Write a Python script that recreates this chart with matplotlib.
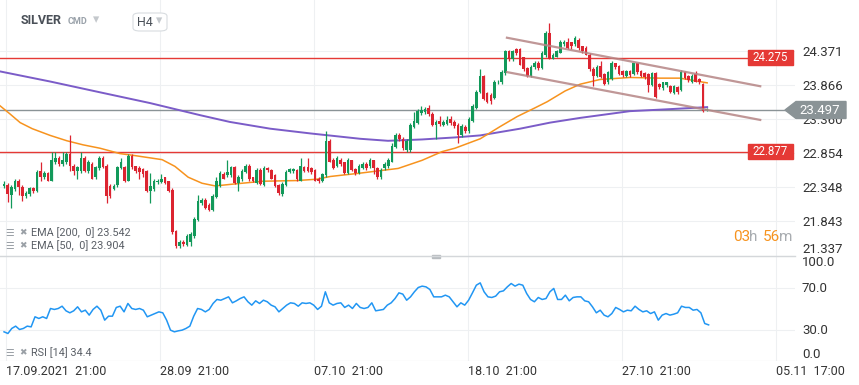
import numpy as np
import matplotlib.pyplot as plt
from matplotlib.patches import Rectangle, Polygon, FancyBboxPatch

plt.rcParams['font.family'] = ['Roboto', 'DejaVu Sans']

# H4 candles, SILVER
opens = [22.37, 22.38, 22.23, 22.32, 22.45, 22.35, 22.22, 22.25, 22.34, 22.29,
         22.59, 22.51, 22.56, 22.45, 22.73, 22.79, 22.69, 22.73, 22.84, 22.67,
         22.59, 22.59, 22.79, 22.59, 22.70, 22.50, 22.63, 22.79, 22.66, 22.37,
         22.32, 22.38, 22.63, 22.65, 22.45, 22.82, 22.66, 22.63, 22.62, 22.59,
         22.29, 22.32, 22.43, 22.43, 22.50, 22.44, 22.31, 21.70, 21.48, 21.54,
         21.50, 21.54, 21.63, 21.87, 22.12, 22.16, 22.09, 22.01, 22.20, 22.37,
         22.54, 22.53, 22.53, 22.65, 22.41, 22.47, 22.57, 22.67, 22.50, 22.41,
         22.60, 22.38, 22.63, 22.60, 22.53, 22.38, 22.25, 22.38, 22.57, 22.59,
         22.60, 22.45, 22.65, 22.65, 22.63, 22.60, 22.48, 22.44, 22.53, 23.03,
         22.75, 22.66, 22.76, 22.72, 22.56, 22.75, 22.62, 22.56, 22.63, 22.70,
         22.66, 22.75, 22.63, 22.51, 22.63, 22.66, 22.73, 22.95, 23.12, 23.07,
         22.90, 22.90, 23.25, 23.31, 23.45, 23.47, 23.53, 23.44, 23.28, 23.34,
         23.28, 23.29, 23.37, 23.32, 23.28, 23.12, 23.25, 23.18, 23.34, 23.53,
         23.76, 24.00, 23.75, 23.72, 23.67, 23.91, 23.91, 24.04, 24.37, 24.25,
         24.41, 24.41, 24.28, 24.12, 24.00, 24.13, 24.20, 24.12, 24.32, 24.64,
         24.26, 24.29, 24.35, 24.48, 24.51, 24.50, 24.48, 24.54, 24.44, 24.42,
         24.32, 24.10, 24.00, 24.15, 24.03, 23.91, 23.95, 24.19, 24.15, 24.07,
         24.00, 24.07, 24.03, 24.19, 24.07, 24.04, 24.03, 23.87, 24.04, 23.88,
         23.82, 23.87, 23.85, 23.75, 23.84, 23.79, 24.06, 24.00, 23.91, 24.03,
         23.95, 23.88, 23.50]
highs = [22.45, 22.41, 22.38, 22.48, 22.48, 22.38, 22.29, 22.35, 22.35, 22.60,
         22.73, 22.59, 22.57, 22.87, 22.87, 22.82, 22.87, 22.87, 23.13, 22.70,
         22.67, 22.87, 22.82, 22.75, 22.73, 22.67, 22.82, 22.82, 22.69, 22.40,
         22.40, 22.67, 22.78, 22.67, 22.85, 22.85, 22.67, 22.66, 22.63, 22.60,
         22.56, 22.47, 22.48, 22.54, 22.51, 22.45, 22.34, 21.72, 21.57, 21.57,
         21.65, 21.68, 21.91, 22.23, 22.19, 22.19, 22.12, 22.25, 22.51, 22.59,
         22.57, 22.75, 22.67, 22.66, 22.53, 22.62, 22.70, 22.69, 22.51, 22.63,
         22.63, 22.66, 22.65, 22.62, 22.54, 22.40, 22.43, 22.60, 22.63, 22.63,
         22.62, 22.78, 22.66, 22.78, 22.65, 22.62, 22.50, 22.56, 23.18, 23.06,
         22.78, 22.81, 22.78, 22.73, 22.78, 22.76, 22.63, 22.69, 22.73, 22.73,
         22.78, 22.76, 22.65, 22.63, 22.73, 22.79, 23.00, 23.15, 23.15, 23.09,
         23.07, 23.31, 23.47, 23.51, 23.56, 23.54, 23.57, 23.47, 23.35, 23.41,
         23.35, 23.41, 23.41, 23.35, 23.31, 23.29, 23.28, 23.40, 23.59, 23.79,
         24.10, 24.01, 23.76, 23.75, 23.94, 23.94, 24.09, 24.39, 24.39, 24.39,
         24.42, 24.42, 24.29, 24.13, 24.16, 24.23, 24.22, 24.38, 24.67, 24.79,
         24.35, 24.39, 24.54, 24.54, 24.57, 24.51, 24.59, 24.56, 24.45, 24.44,
         24.34, 24.13, 24.16, 24.22, 24.04, 24.07, 24.22, 24.20, 24.16, 24.09,
         24.09, 24.09, 24.20, 24.20, 24.09, 24.06, 24.04, 24.06, 24.06, 23.90,
         23.92, 23.92, 23.87, 23.87, 23.85, 24.09, 24.07, 24.01, 24.03, 24.07,
         23.97, 23.90, 23.53]
lows = [22.34, 22.13, 22.04, 22.29, 22.23, 22.15, 22.19, 22.22, 22.26, 22.28,
        22.45, 22.47, 22.44, 22.44, 22.69, 22.66, 22.66, 22.70, 22.59, 22.53,
        22.48, 22.56, 22.57, 22.56, 22.47, 22.48, 22.60, 22.63, 22.12, 22.19,
        22.31, 22.35, 22.62, 22.43, 22.44, 22.62, 22.56, 22.47, 22.51, 22.28,
        22.12, 22.29, 22.40, 22.41, 22.40, 22.28, 21.66, 21.45, 21.45, 21.48,
        21.48, 21.48, 21.60, 21.85, 22.09, 22.03, 22.00, 22.00, 22.19, 22.35,
        22.47, 22.51, 22.50, 22.40, 22.29, 22.45, 22.56, 22.45, 22.43, 22.40,
        22.38, 22.37, 22.57, 22.47, 22.35, 22.23, 22.22, 22.37, 22.56, 22.56,
        22.45, 22.44, 22.57, 22.57, 22.54, 22.44, 22.41, 22.43, 22.51, 22.72,
        22.62, 22.65, 22.67, 22.54, 22.54, 22.59, 22.53, 22.54, 22.62, 22.60,
        22.63, 22.54, 22.48, 22.48, 22.60, 22.63, 22.72, 22.93, 23.03, 22.91,
        22.88, 22.88, 23.23, 23.29, 23.42, 23.44, 23.41, 23.26, 23.07, 23.26,
        23.26, 23.28, 23.28, 23.23, 23.01, 23.09, 23.15, 23.16, 23.32, 23.51,
        23.75, 23.65, 23.60, 23.59, 23.66, 23.88, 23.88, 24.01, 24.23, 24.22,
        24.32, 24.16, 24.07, 23.98, 23.98, 24.10, 24.09, 24.10, 24.29, 24.25,
        24.25, 24.28, 24.34, 24.45, 24.41, 24.41, 24.45, 24.39, 24.35, 24.31,
        24.07, 23.85, 23.98, 23.97, 23.87, 23.88, 23.94, 24.10, 24.01, 23.98,
        23.98, 23.98, 24.01, 24.03, 23.98, 23.95, 23.76, 23.85, 23.67, 23.81,
        23.79, 23.84, 23.75, 23.73, 23.73, 23.78, 23.95, 23.91, 23.90, 23.91,
        23.88, 23.47, 23.48]
closes = [22.40, 22.25, 22.35, 22.45, 22.35, 22.22, 22.26, 22.34, 22.29, 22.57,
          22.51, 22.56, 22.45, 22.75, 22.79, 22.69, 22.76, 22.84, 22.66, 22.59,
          22.65, 22.79, 22.59, 22.72, 22.48, 22.65, 22.79, 22.65, 22.22, 22.22,
          22.37, 22.65, 22.72, 22.45, 22.82, 22.65, 22.59, 22.57, 22.54, 22.29,
          22.37, 22.44, 22.45, 22.48, 22.41, 22.29, 21.68, 21.48, 21.54, 21.51,
          21.62, 21.65, 21.88, 22.15, 22.16, 22.04, 22.01, 22.22, 22.44, 22.56,
          22.48, 22.57, 22.65, 22.41, 22.50, 22.59, 22.67, 22.47, 22.44, 22.60,
          22.40, 22.63, 22.60, 22.48, 22.37, 22.26, 22.40, 22.57, 22.62, 22.62,
          22.47, 22.66, 22.59, 22.59, 22.57, 22.45, 22.44, 22.54, 23.04, 22.73,
          22.63, 22.78, 22.69, 22.56, 22.75, 22.60, 22.56, 22.66, 22.70, 22.63,
          22.75, 22.63, 22.51, 22.60, 22.70, 22.76, 22.97, 23.12, 23.06, 22.93,
          23.04, 23.28, 23.34, 23.48, 23.50, 23.51, 23.44, 23.28, 23.32, 23.29,
          23.32, 23.35, 23.31, 23.26, 23.12, 23.26, 23.18, 23.37, 23.56, 23.76,
          24.00, 23.66, 23.62, 23.63, 23.91, 23.92, 24.06, 24.37, 24.26, 24.38,
          24.35, 24.17, 24.10, 24.00, 24.13, 24.20, 24.12, 24.35, 24.64, 24.26,
          24.32, 24.37, 24.51, 24.51, 24.42, 24.44, 24.56, 24.42, 24.38, 24.32,
          24.10, 24.00, 24.13, 23.98, 23.88, 24.06, 24.19, 24.13, 24.03, 24.01,
          24.07, 24.01, 24.19, 24.06, 24.00, 23.98, 23.87, 24.04, 23.69, 23.84,
          23.91, 23.91, 23.76, 23.85, 23.76, 24.06, 23.97, 23.94, 24.00, 23.92,
          23.91, 23.48, 23.51]

# EMA curves read at sample points (candle index, price)
ema200_idx = [-1.1, 12.6, 26.2, 39.9, 53.6, 61.7, 72.7, 83.6, 97.3, 104.9,
              114.2, 123.2, 130.1, 141.0, 149.2, 157.4, 171.0, 182.0, 192.1]
ema200_val = [24.07, 23.92, 23.76, 23.60, 23.42, 23.32, 23.22, 23.15, 23.07, 23.04,
              23.06, 23.09, 23.12, 23.22, 23.31, 23.38, 23.48, 23.51, 23.54]
ema50_idx = [-1.1, 1.6, 4.4, 7.7, 12.6, 17.2, 21.6, 26.2, 31.7, 35.8, 43.2, 46.7,
             50.3, 54.1, 57.7, 63.1, 70.8, 80.1, 85.5, 89.1, 97.3, 107.7, 114.2,
             119.7, 123.2, 130.1, 135.5, 140.2, 145.1, 148.4, 153.3, 157.4, 162.8,
             171.0, 179.2, 184.7, 192.1]
ema50_val = [23.56, 23.44, 23.31, 23.22, 23.12, 23.04, 22.98, 22.93, 22.85, 22.82,
             22.76, 22.66, 22.50, 22.41, 22.37, 22.40, 22.44, 22.45, 22.47, 22.51,
             22.56, 22.63, 22.75, 22.88, 22.93, 23.07, 23.25, 23.40, 23.53, 23.62,
             23.78, 23.88, 23.95, 23.98, 23.97, 23.97, 23.90]

rsi = [27.8, 26.2, 31.0, 33.2, 30.0, 31.0, 33.2, 32.5, 42.1, 40.5, 42.1, 40.5,
       50.0, 49.1, 50.0, 52.2, 47.8, 45.9, 47.8, 51.6, 46.8, 48.4, 43.7, 49.1,
       52.2, 48.4, 38.9, 42.7, 42.7, 51.0, 52.2, 46.8, 54.8, 50.0, 49.1, 50.0,
       48.4, 42.1, 43.7, 45.2, 46.8, 45.9, 38.9, 29.4, 27.8, 28.7, 29.4, 31.0,
       33.2, 42.7, 50.0, 49.1, 46.8, 49.1, 54.8, 58.6, 57.9, 59.5, 61.1, 55.4,
       57.3, 59.5, 61.1, 56.4, 53.2, 57.3, 54.8, 57.9, 56.4, 53.2, 51.6, 46.8,
       50.0, 53.2, 55.4, 54.8, 52.2, 55.4, 54.8, 55.4, 53.2, 49.1, 52.2, 65.9,
       55.4, 53.2, 54.8, 55.4, 51.0, 53.2, 50.0, 54.8, 51.0, 50.0, 51.0, 55.4,
       47.8, 48.4, 49.1, 53.2, 55.4, 59.5, 64.9, 63.7, 57.9, 61.1, 65.9, 70.0,
       71.3, 70.6, 68.1, 61.1, 61.1, 61.1, 62.7, 61.1, 56.4, 51.6, 55.4, 53.2,
       57.9, 64.9, 72.2, 74.4, 65.9, 61.1, 60.5, 61.8, 65.9, 66.8, 70.6, 73.8,
       71.3, 73.2, 72.2, 64.3, 58.6, 56.4, 60.5, 58.6, 59.5, 65.9, 69.1, 58.6,
       58.6, 62.7, 57.3, 60.5, 61.1, 61.1, 57.3, 56.4, 51.6, 45.9, 48.4, 43.7,
       42.1, 45.2, 51.0, 49.1, 46.8, 48.4, 47.8, 52.2, 49.1, 46.8, 47.8, 45.2,
       46.8, 38.9, 43.7, 45.2, 43.7, 44.6, 45.9, 52.2, 51.0, 51.0, 48.4, 49.1,
       45.9, 35.7, 34.4]

# descending channel: (index, price) at both ends
chan_idx = [137.4, 206.6]
chan_upper = [24.57, 23.85]
chan_lower = [24.06, 23.35]

levels = [24.275, 22.877]
last_price = 23.497
price_ticks = [24.371, 23.866, 23.360, 22.854, 22.348, 21.843, 21.337]
rsi_ticks = [100.0, 70.0, 30.0, 0.0]
date_idx = [0.55, 42.6, 84.7, 126.8, 168.9, 210.9]
date_labels = ['17.09.2021  21:00', '28.09  21:00', '07.10  21:00',
               '18.10  21:00', '27.10  21:00', '05.11  17:00']

W, H = 859, 385
GREEN, RED = '#12995a', '#dc2430'
GRID = '#eef0f2'
fig = plt.figure(figsize=(W / 100, H / 100), dpi=100)


def px(x, y):
    return x / W, 1 - y / H


ax = fig.add_axes([0, 1 - 256 / H, 795 / W, 256 / H])
ax_r = fig.add_axes([0, 1 - 361 / H, 795 / W, 105 / H])
xlim = (-1.1, 216.1)

o, h, l, c = map(np.array, (opens, highs, lows, closes))
idx = np.arange(len(c))
col = np.where(c >= o, GREEN, RED)
ax.vlines(idx, l, h, colors=col, lw=0.9, zorder=3)
body = np.maximum(np.abs(c - o), 0.01)
ax.bar(idx, body, bottom=np.minimum(o, c), width=0.72, color=col, lw=0, zorder=4)

ax.plot(ema200_idx, ema200_val, color='#7b5cc8', lw=1.4, zorder=2)
ax.plot(ema50_idx, ema50_val, color='#f7931e', lw=1.1, zorder=2)
ax.plot(chan_idx, chan_upper, color='#b58585', lw=1.6, alpha=0.85, zorder=5)
ax.plot(chan_idx, chan_lower, color='#b58585', lw=1.6, alpha=0.85, zorder=5)

x_box = 205.3
for lv in levels:
    ax.plot([xlim[0], x_box], [lv, lv], color='#e53935', lw=1.0, zorder=1)
ax.plot([xlim[0], 213.5], [last_price, last_price], color='#8a9396', lw=1.0, zorder=1)

ax.set_xlim(*xlim)
ax.set_ylim(21.33, 25.13)
ax.set_yticks(price_ticks, [f'{t:.3f}' for t in price_ticks])
ax.yaxis.tick_right()
ax.tick_params(axis='y', length=0, pad=5, labelsize=9.5, labelcolor='#333333')
ax.set_xticks(date_idx)
ax.tick_params(axis='x', length=0, labelbottom=False)
ax.grid(True, color=GRID, lw=0.8)
ax.set_axisbelow(True)
ax.get_yticklabels()[-1].set_va('bottom')
for s in ax.spines.values():
    s.set_visible(False)

# level labels
for lv in levels:
    y = ax.transData.transform((0, lv))[1]
    yy = H - y
    fig.patches.append(Rectangle(px(748, yy + 7.5), 45 / W, 15 / H,
                                 transform=fig.transFigure, color='#e53935', zorder=10))
    fig.text(*px(770.5, yy), f'{lv:.3f}', color='white', fontsize=8.3,
             ha='center', va='center', zorder=11)
y = H - ax.transData.transform((0, last_price))[1]
fig.patches.append(Polygon([px(785, y), px(796, y - 8.5), px(846, y - 8.5),
                            px(846, y + 8.5), px(796, y + 8.5)], closed=True,
                           transform=fig.transFigure, color='#8a9396', zorder=10))
fig.text(*px(820, y), f'{last_price:.3f}', color='white', fontsize=9.5,
         ha='center', va='center', zorder=11)

# RSI panel
ax_r.plot(np.linspace(0, 192.5, len(rsi)), rsi, color='#2196f3', lw=1.1)
ax_r.set_xlim(*xlim)
ax_r.set_ylim(0, 100)
ax_r.set_yticks(rsi_ticks, [f'{t:.1f}' for t in rsi_ticks])
ax_r.yaxis.tick_right()
ax_r.tick_params(axis='y', length=0, pad=5, labelsize=9.5, labelcolor='#333333')
ax_r.get_yticklabels()[0].set_va('top')
ax_r.get_yticklabels()[-1].set_va('bottom')
ax_r.set_xticks(date_idx, date_labels, ha='left')
ax_r.tick_params(axis='x', length=0, pad=3, labelsize=9, labelcolor='#333333')
for lab in ax_r.get_xticklabels():
    lab.set_x(lab.get_position()[0])
ax_r.grid(True, color=GRID, lw=0.8)
for s in ax_r.spines.values():
    s.set_visible(False)
ax_r.axhline(0, color='#dcdfe2', lw=0.8)
fig.lines.append(plt.Line2D([0, 795 / W], [1 - 256 / H] * 2, transform=fig.transFigure,
                            color='#d4d7da', lw=1.0))
fig.patches.append(Rectangle(px(432, 258), 8 / W, 3 / H, transform=fig.transFigure,
                             color='#b8bcc0'))

# header
fig.text(*px(21, 21), 'SILVER', fontsize=9, fontweight='bold', color='#4a5058', va='center')
fig.text(*px(68, 21), 'CMD', fontsize=6.5, fontweight='bold', color='#9aa2aa', va='center')
fig.text(*px(96, 20), '▾', fontsize=9, color='#c4c8cc', ha='center', va='center')
fig.patches.append(FancyBboxPatch(px(133, 31), 34 / W, 18 / H,
                                  boxstyle='round,pad=0,rounding_size=0.008',
                                  transform=fig.transFigure, fc='white', ec='#d8dce0', lw=0.8))
fig.text(*px(137, 22), 'H4', fontsize=9, color='#4a5058', va='center')
fig.text(*px(159, 21), '▾', fontsize=9, color='#c4c8cc', ha='center', va='center')

# indicator legends
leg = [(233, 'EMA [200,  0] 23.542'), (246, 'EMA [50,  0] 23.904'), (353, 'RSI [14] 34.4')]
for yy, t in leg:
    fig.text(*px(5, yy), '☰', fontsize=7, color='#9aa0a6', va='center')
    fig.text(*px(19, yy), '✖', fontsize=6.5, color='#9aa0a6', va='center')
    fig.text(*px(31, yy), t, fontsize=7.8, color='#5a5f66', va='center')

# countdown
for xx, t, cc in [(733, '03', '#f7931e'), (749, 'h', '#a8acb0'),
                  (763, '56', '#f7931e'), (779, 'm', '#a8acb0')]:
    fig.text(*px(xx, 237), t, fontsize=11, color=cc, va='center')

fig.savefig('out.png', dpi=100, facecolor='white')
